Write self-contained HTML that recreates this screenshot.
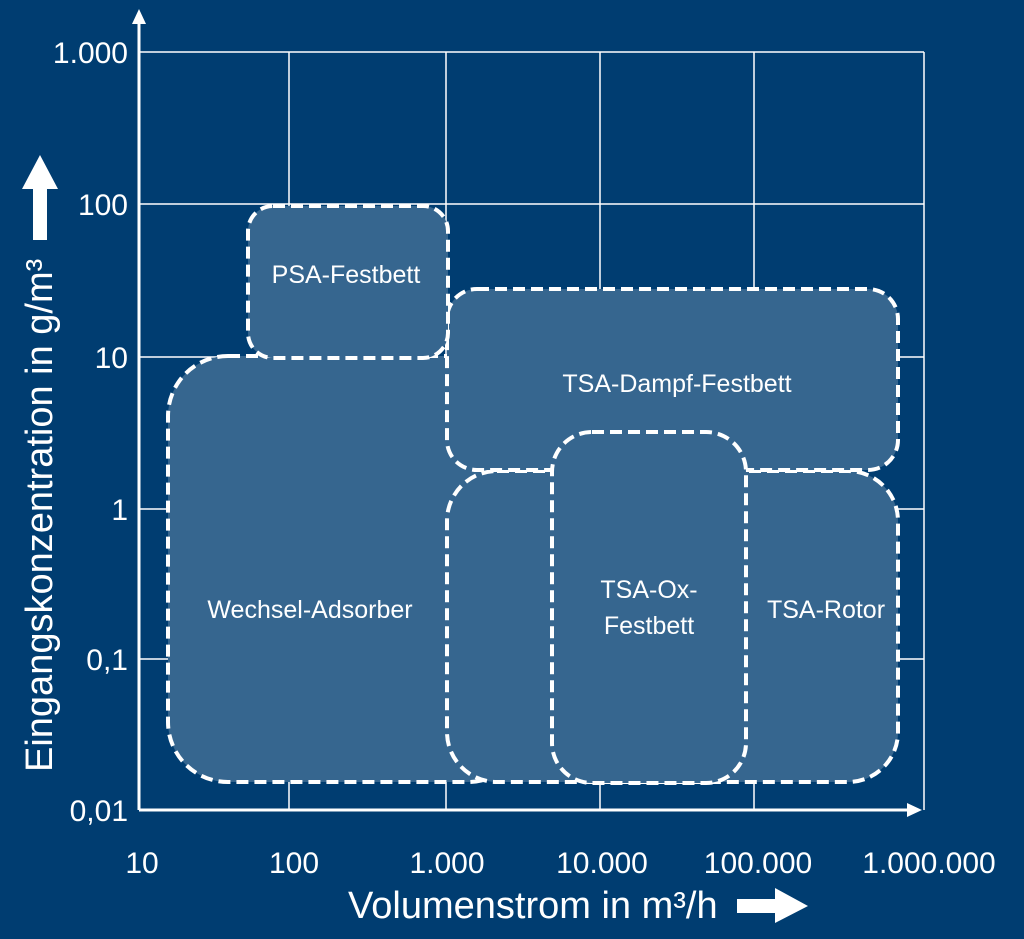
<!DOCTYPE html>
<html><head><style>body{margin:0;background:#003d71}svg{display:block}</style></head><body>
<svg width="1024" height="939" viewBox="0 0 1024 939" xmlns="http://www.w3.org/2000/svg" font-family="Liberation Sans, sans-serif">
<rect width="1024" height="939" fill="#003d71"/>
<g stroke="#fff" stroke-width="1.5" fill="none">
<line x1="139" y1="52" x2="924" y2="52"/><line x1="139" y1="204" x2="924" y2="204"/><line x1="139" y1="357" x2="924" y2="357"/><line x1="139" y1="509" x2="924" y2="509"/><line x1="139" y1="659" x2="924" y2="659"/>
<line x1="289" y1="52" x2="289" y2="810"/><line x1="446" y1="52" x2="446" y2="810"/><line x1="600" y1="52" x2="600" y2="810"/><line x1="754" y1="52" x2="754" y2="810"/><line x1="924" y1="52" x2="924" y2="810"/>
</g>
<g stroke="#fff" stroke-width="3">
<line x1="139" y1="810" x2="908" y2="810"/><line x1="139" y1="810" x2="139" y2="22"/></g>
<polygon points="922,810 907,803 907,817" fill="#fff"/>
<polygon points="139,9 132,24 146,24" fill="#fff"/>
<g fill="#36668f" stroke="#fff" stroke-width="4" stroke-dasharray="12,6">
<rect x="168" y="356" width="360" height="426" rx="60"/>
<rect x="447" y="471" width="451" height="311" rx="50"/>
<rect x="447" y="289" width="451" height="181" rx="30"/>
<rect x="248" y="206" width="200" height="152" rx="25"/>
<rect x="552" y="432" width="194" height="351" rx="40"/>
</g>
<g fill="#fff" font-size="25" text-anchor="middle">
<text x="346" y="283">PSA-Festbett</text>
<text x="677" y="392">TSA-Dampf-Festbett</text>
<text x="310" y="618">Wechsel-Adsorber</text>
<text x="649" y="598">TSA-Ox-</text><text x="649" y="634">Festbett</text>
<text x="826" y="618">TSA-Rotor</text>
</g>
<g fill="#fff" font-size="30" text-anchor="end">
<text x="128" y="63">1.000</text><text x="128" y="215">100</text><text x="128" y="368">10</text><text x="128" y="520">1</text><text x="128" y="670">0,1</text><text x="128" y="821">0,01</text>
</g>
<g fill="#fff" font-size="30" text-anchor="middle">
<text x="142" y="873">10</text><text x="294" y="873">100</text><text x="447" y="873">1.000</text><text x="602" y="873">10.000</text><text x="758" y="873">100.000</text><text x="929" y="873">1.000.000</text>
</g>
<text x="348" y="918" fill="#fff" font-size="38">Volumenstrom in m³/h</text>
<polygon points="737,899 775,899 775,888 808,906 775,923 775,913 737,913" fill="#fff"/>
<text transform="translate(52,772) rotate(-90)" fill="#fff" font-size="38">Eingangskonzentration in g/m³</text>
<polygon points="33,240 47,240 47,189 58,189 40,155 22,189 33,189" fill="#fff"/>
</svg>
</body></html>
